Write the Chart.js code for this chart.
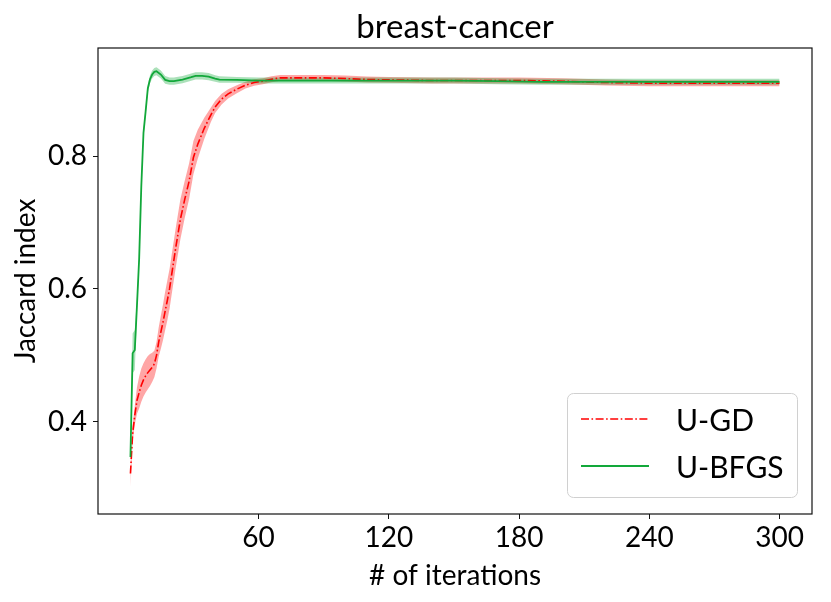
<!DOCTYPE html>
<html>
<head>
<meta charset="utf-8">
<script src="https://cdn.jsdelivr.net/npm/chart.js@4.4.0/dist/chart.umd.min.js"></script>
<style>
  html, body { margin: 0; padding: 0; background: #fff; }
  #wrap { width: 831px; height: 602px; }
</style>
</head>
<body>
<div id="wrap"><canvas id="jaccard-chart" width="831" height="602"></canvas></div>
<script>
// values
var ugdIter = [1, 2, 3, 4, 5, 6, 7, 8, 9, 10, 11, 12, 13, 14, 15, 16, 17, 18, 19, 20,
    22, 24, 26, 28, 30, 32, 35, 38, 40, 43, 46, 50, 54, 58, 62, 66, 70, 80, 90, 100,
    110, 120, 140, 160, 180, 200, 220, 240, 270, 300];
var ugdMean = [0.322, 0.382, 0.410, 0.432, 0.444, 0.455, 0.463, 0.469, 0.474, 0.478,
    0.482, 0.487, 0.500, 0.520, 0.535, 0.550, 0.567, 0.583, 0.600, 0.622,
    0.665, 0.705, 0.735, 0.762, 0.798, 0.818, 0.842, 0.862, 0.874, 0.886,
    0.894, 0.901, 0.907, 0.911, 0.913, 0.916, 0.918, 0.918, 0.918, 0.917,
    0.9155, 0.915, 0.914, 0.914, 0.914, 0.913, 0.911, 0.910, 0.910, 0.910];
var ugdStd = [0.020, 0.012, 0.014, 0.020, 0.024, 0.025, 0.025, 0.025, 0.025, 0.024,
    0.022, 0.020, 0.020, 0.022, 0.025, 0.027, 0.029, 0.030, 0.030, 0.030,
    0.030, 0.030, 0.028, 0.027, 0.025, 0.022, 0.016, 0.011, 0.009, 0.008,
    0.007, 0.006, 0.005, 0.005, 0.0045, 0.0045, 0.0045, 0.0045, 0.0045, 0.0045,
    0.0045, 0.0045, 0.0045, 0.0045, 0.0045, 0.0045, 0.0045, 0.0045, 0.0045, 0.0045];

var bfgsIter = [1, 2, 3, 4, 5, 6, 7, 8, 9, 10, 11, 12, 13, 15, 17, 19, 21, 25, 29, 31,
    34, 37, 40, 42, 50, 60, 80, 100, 120, 150, 170, 190, 220, 250, 280, 300];
var bfgsMean = [0.347, 0.503, 0.508, 0.575, 0.645, 0.755, 0.835, 0.868, 0.902, 0.916,
    0.923, 0.927, 0.928, 0.923, 0.915, 0.913, 0.913, 0.9155, 0.919, 0.921,
    0.921, 0.920, 0.917, 0.9155, 0.915, 0.914, 0.914, 0.914, 0.914, 0.914,
    0.913, 0.912, 0.912, 0.912, 0.912, 0.912];
var bfgsStd = [0.005, 0.030, 0.030, 0.012, 0.007, 0.006, 0.006, 0.006, 0.006, 0.006,
    0.006, 0.006, 0.006, 0.006, 0.006, 0.0055, 0.0055, 0.0055, 0.0055, 0.0055,
    0.0055, 0.0055, 0.005, 0.005, 0.0045, 0.0045, 0.0045, 0.0045, 0.0045, 0.0045,
    0.0045, 0.0045, 0.0045, 0.0045, 0.0045, 0.0045];

var xTicks = [60, 120, 180, 240, 300];
var yTicks = [0.4, 0.6, 0.8];

var FONT = 'Lato, "Open Sans", sans-serif';
var RED = '#ff0000';
var GREEN = '#12a83a';

function points(xs, ys, offs, sign) {
    var out = [];
    for (var i = 0; i < xs.length; i++) {
        var y = ys[i];
        if (offs) y = y + sign * offs[i];
        out.push({ x: xs[i], y: y });
    }
    return out;
}

function bandSet(xs, ys, offs, sign, fillColor, fill) {
    return {
        label: '',
        data: points(xs, ys, offs, sign),
        borderWidth: 0,
        pointRadius: 0,
        backgroundColor: fillColor,
        fill: fill,
        tension: 0
    };
}

// frame around the plot area, like matplotlib spines
var framePlugin = {
    id: 'frame',
    afterDraw: function(chart) {
        var a = chart.chartArea;
        var c = chart.ctx;
        c.save();
        c.strokeStyle = '#111';
        c.lineWidth = 1.2;
        c.strokeRect(a.left, a.top, a.right - a.left, a.bottom - a.top);
        c.restore();
    }
};

// title centred over the plot area
var titlePlugin = {
    id: 'plotTitle',
    afterDraw: function(chart) {
        var a = chart.chartArea;
        var c = chart.ctx;
        c.save();
        c.fillStyle = '#000';
        c.font = '33px ' + FONT;
        c.textAlign = 'center';
        c.textBaseline = 'alphabetic';
        c.fillText('breast-cancer', (a.left + a.right) / 2, 37.5);
        c.restore();
    }
};

// legend box in the lower right corner
var legendPlugin = {
    id: 'boxLegend',
    afterDraw: function(chart) {
        var c = chart.ctx;
        var entries = [chart.data.datasets[1], chart.data.datasets[0]];
        c.save();
        c.beginPath();
        c.roundRect(567.5, 393.5, 230, 104, 6);
        c.fillStyle = 'rgba(255,255,255,0.85)';
        c.fill();
        c.strokeStyle = '#d0d0d0';
        c.lineWidth = 1;
        c.stroke();
        for (var i = 0; i < entries.length; i++) {
            var ds = entries[i];
            var y = 419 + i * 47;
            c.beginPath();
            c.setLineDash(ds.borderDash || []);
            c.strokeStyle = ds.borderColor;
            c.lineWidth = ds.borderWidth;
            c.moveTo(581, y);
            c.lineTo(649, y);
            c.stroke();
            c.setLineDash([]);
            c.fillStyle = '#000';
            c.font = '30px ' + FONT;
            c.textAlign = 'left';
            c.textBaseline = 'alphabetic';
            c.fillText(ds.label, 676, y + 11.5);
        }
        c.restore();
    }
};

var ctx = document.getElementById('jaccard-chart');

new Chart(ctx, {
    type: 'line',
    data: {
        datasets: [
            {
                label: 'U-BFGS',
                data: points(bfgsIter, bfgsMean),
                borderColor: GREEN,
                borderWidth: 1.8,
                pointRadius: 0,
                fill: false,
                tension: 0
            },
            {
                label: 'U-GD',
                data: points(ugdIter, ugdMean),
                borderColor: RED,
                borderWidth: 1.6,
                borderDash: [8, 2.5, 1.6, 2.5],
                pointRadius: 0,
                fill: false,
                tension: 0
            },
            bandSet(bfgsIter, bfgsMean, bfgsStd, -1, 'rgba(18,168,58,0.35)', false),
            bandSet(bfgsIter, bfgsMean, bfgsStd, 1, 'rgba(18,168,58,0.35)', '-1'),
            bandSet(ugdIter, ugdMean, ugdStd, -1, 'rgba(255,0,0,0.35)', false),
            bandSet(ugdIter, ugdMean, ugdStd, 1, 'rgba(255,0,0,0.35)', '-1')
        ]
    },
    options: {
        responsive: false,
        animation: false,
        events: [],
        layout: {
            padding: { top: 48, right: 19, left: 0, bottom: 0 }
        },
        plugins: {
            legend: { display: false },
            title: { display: false },
            tooltip: { enabled: false }
        },
        scales: {
            x: {
                type: 'linear',
                min: -13.95,
                max: 314.95,
                afterBuildTicks: function(scale) {
                    scale.ticks = xTicks.map(function(v) { return { value: v }; });
                },
                afterFit: function(scale) { scale.height = 88; },
                border: { display: false },
                grid: { drawOnChartArea: false, drawTicks: true, tickLength: 5, color: '#111' },
                ticks: {
                    color: '#000',
                    font: { family: FONT, size: 28 },
                    padding: 2,
                    maxRotation: 0
                },
                title: {
                    display: true,
                    text: '# of iterations',
                    color: '#000',
                    font: { family: FONT, size: 28 },
                    padding: { top: 0, bottom: 9 }
                }
            },
            y: {
                min: 0.261,
                max: 0.963,
                afterBuildTicks: function(scale) {
                    scale.ticks = yTicks.map(function(v) { return { value: v }; });
                },
                afterFit: function(scale) { scale.width = 98; },
                border: { display: false },
                grid: { drawOnChartArea: false, drawTicks: true, tickLength: 5, color: '#111' },
                ticks: {
                    color: '#000',
                    font: { family: FONT, size: 28 },
                    padding: 6,
                    callback: function(v) { return v.toFixed(1); }
                },
                title: {
                    display: true,
                    text: 'Jaccard index',
                    color: '#000',
                    font: { family: FONT, size: 28 },
                    padding: { top: 9, bottom: 0 }
                }
            }
        }
    },
    plugins: [framePlugin, titlePlugin, legendPlugin]
});
</script>
</body>
</html>
